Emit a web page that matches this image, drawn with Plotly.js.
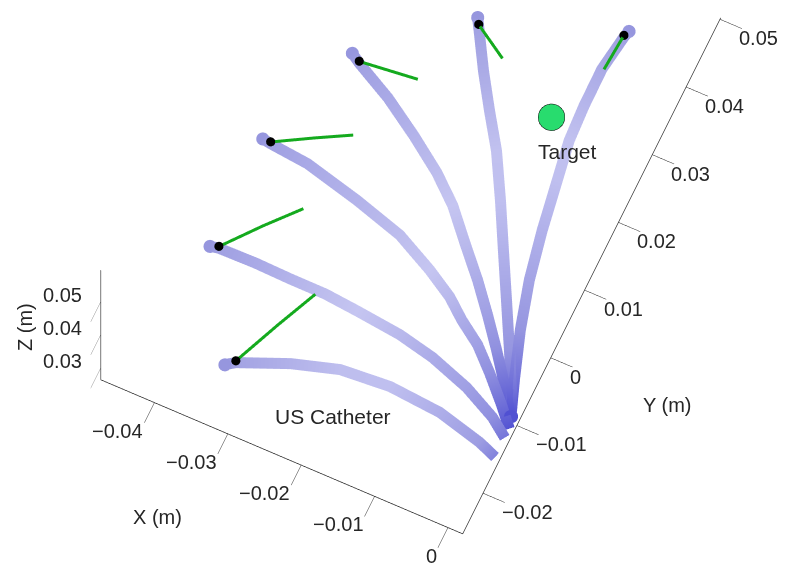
<!DOCTYPE html>
<html>
<head>
<meta charset="utf-8">
<script src="https://cdn.plot.ly/plotly-3.0.1.min.js"></script>
<style>html,body{margin:0;padding:0;background:#fff}#chart{width:787px;height:570px}</style>
</head>
<body>
<div id="chart"></div>
<script>
// Catheter centrelines (metres), each listed from tip to base
const catheterX = [
  [-0.03356,-0.03244,-0.02623,-0.02031,-0.01377,-0.00672,-0.00057,0.00272,0.00535],
  [-0.04189,-0.04077,-0.03579,-0.03099,-0.02624,-0.02171,-0.01556,-0.01058,-0.00510,-0.00052,0.00256,0.00390],
  [-0.04200,-0.04083,-0.03557,-0.02792,-0.02115,-0.01584,-0.01209,-0.00946,-0.00628,-0.00337,-0.00024,0.00233],
  [-0.03675,-0.03541,-0.03021,-0.02518,-0.02054,-0.01691,-0.01321,-0.00991,-0.00684,-0.00387,-0.00102,0.00144],
  [-0.02468,-0.02406,-0.02099,-0.01808,-0.01506,-0.01182,-0.00869,-0.00555,-0.00242,0.00004,0.00155],
  [-0.00690,-0.00713,-0.00780,-0.00774,-0.00746,-0.00656,-0.00545,-0.00410,-0.00231,-0.00018,0.00150]
];
const catheterY = [
  [-0.01918,-0.01837,-0.01565,-0.01380,-0.01328,-0.01385,-0.01543,-0.01670,-0.01857],
  [-0.00553,-0.00531,-0.00522,-0.00535,-0.00537,-0.00578,-0.00646,-0.00755,-0.00943,-0.01172,-0.01398,-0.01542],
  [0.01029,0.01010,0.00958,0.00768,0.00566,0.00296,0.00072,-0.00145,-0.00365,-0.00643,-0.00969,-0.01261],
  [0.02536,0.02451,0.02176,0.01850,0.01520,0.01203,0.00785,0.00422,0.00050,-0.00328,-0.00710,-0.01067],
  [0.03622,0.03519,0.02998,0.02545,0.02096,0.01511,0.00920,0.00330,-0.00261,-0.00735,-0.01062],
  [0.04237,0.04138,0.03637,0.03095,0.02594,0.02047,0.01364,0.00691,0.00038,-0.00599,-0.01065]
];
const catheterZ = [
  [0.03,0.03,0.03,0.03,0.03,0.03,0.03,0.03,0.03],
  [0.03,0.03,0.03,0.03,0.03,0.03,0.03,0.03,0.03,0.03,0.03,0.03],
  [0.03,0.03,0.03,0.03,0.03,0.03,0.03,0.03,0.03,0.03,0.03,0.03],
  [0.03,0.03,0.03,0.03,0.03,0.03,0.03,0.03,0.03,0.03,0.03,0.03],
  [0.03,0.03,0.03,0.03,0.03,0.03,0.03,0.03,0.03,0.03,0.03],
  [0.03,0.03,0.03,0.03,0.03,0.03,0.03,0.03,0.03,0.03,0.03]
];
// Imaging direction lines (green), from the tip outward
const beamX = [
  [-0.03244,-0.02975,-0.02725],
  [-0.04077,-0.03692,-0.03340],
  [-0.04083,-0.03625,-0.03194],
  [-0.03541,-0.02781],
  [-0.02406,-0.01948],
  [-0.00713,-0.00746]
];
const beamY = [
  [-0.01837,-0.01184,-0.00612],
  [-0.00531,-0.00044,0.00368],
  [0.01010,0.01280,0.01523],
  [0.02451,0.02537],
  [0.03519,0.03230],
  [0.04138,0.03623]
];
const beamZ = [
  [0.0305,0.0305,0.0305],
  [0.0305,0.0305,0.0305],
  [0.0305,0.0305,0.0305],
  [0.0305,0.0305],
  [0.0305,0.0305],
  [0.0305,0.0305]
];
// Catheter tips
const tipX = [-0.03244,-0.04077,-0.04083,-0.03541,-0.02406,-0.00713];
const tipY = [-0.01837,-0.00531,0.01010,0.02451,0.03519,0.04138];
const tipZ = [0.0306,0.0306,0.0306,0.0306,0.0306,0.0306];
// Target
const targetX = [-0.01081];
const targetY = [0.02792];
const targetZ = [0.03];
const catheterLabel = {x: -0.01846, y: -0.01986, z: 0.03, text: 'US Catheter'};
// Axes
const xRange = [-0.0473, 0.002];
const yRange = [-0.026, 0.0502];
const zRange = [0.0264, 0.0595];
const xTicks = [-0.04, -0.03, -0.02, -0.01, 0];
const xTickText = ['\u22120.04', '\u22120.03', '\u22120.02', '\u22120.01', '0'];
const yTicks = [-0.02, -0.01, 0, 0.01, 0.02, 0.03, 0.04, 0.05];
const yTickText = ['\u22120.02', '\u22120.01', '0', '0.01', '0.02', '0.03', '0.04', '0.05'];
const zTicks = [0.03, 0.04, 0.05];
const zTickText = ['0.03', '0.04', '0.05'];

const FONT = 'Liberation Sans, Arial, Helvetica, sans-serif';
const INK = '#262626';
const traces = [];
const tubeScale = [
  [0, 'rgb(150,150,222)'],
  [0.45, 'rgb(198,198,241)'],
  [0.8, 'rgb(150,150,224)'],
  [1, 'rgb(80,80,210)']
];
const capX = [], capY = [], capZ = [], capC = [];
for (let c = 0; c < catheterX.length; c++) {
  const n = catheterX[c].length;
  traces.push({
    type: 'scatter3d', mode: 'lines',
    x: catheterX[c], y: catheterY[c], z: catheterZ[c],
    line: {width: 22, color: catheterX[c].map((_, i) => i / (n - 1)), colorscale: tubeScale, cmin: 0, cmax: 1},
    hoverinfo: 'skip'
  });
  // rounded tube ends
  capX.push(catheterX[c][0], catheterX[c][n - 1]);
  capY.push(catheterY[c][0], catheterY[c][n - 1]);
  capZ.push(catheterZ[c][0], catheterZ[c][n - 1]);
  capC.push(0, 1);
}
traces.push({
  type: 'scatter3d', mode: 'markers',
  x: capX, y: capY, z: capZ,
  marker: {size: 7.6, color: capC, colorscale: tubeScale, cmin: 0, cmax: 1, line: {width: 0}},
  hoverinfo: 'skip'
});
for (let c = 0; c < beamX.length; c++) {
  traces.push({
    type: 'scatter3d', mode: 'lines',
    x: beamX[c], y: beamY[c], z: beamZ[c],
    line: {width: 6, color: 'rgb(20,170,30)'},
    hoverinfo: 'skip'
  });
}
traces.push({
  type: 'scatter3d', mode: 'markers',
  x: tipX, y: tipY, z: tipZ,
  marker: {size: 5.3, color: '#000'},
  hoverinfo: 'skip'
});
traces.push({
  type: 'scatter3d', mode: 'markers',
  x: targetX, y: targetY, z: targetZ,
  marker: {size: 15.5, color: 'rgb(40,220,110)', line: {color: '#000', width: 2}},
  hoverinfo: 'skip'
});

function axisStyle(range, ticks) {
  return {
    range: range,
    tickmode: 'array', tickvals: ticks,
    showticklabels: false,
    showgrid: false, zeroline: false, showbackground: false,
    showline: true, linecolor: INK, linewidth: 1.5,
    ticks: 'outside', ticklen: 24, tickcolor: INK,
    title: {text: ''},
    showspikes: false
  };
}

// tick labels as screen-aligned scene annotations
const tickFont = {family: FONT, size: 20, color: INK};
const sceneAnn = [];
xTicks.forEach((v, i) => sceneAnn.push({x: v, y: yRange[0], z: zRange[0], text: xTickText[i], showarrow: false,
  xanchor: 'right', yanchor: 'middle', xshift: -9, yshift: -28, font: tickFont}));
yTicks.forEach((v, i) => sceneAnn.push({x: xRange[1], y: v, z: zRange[0], text: yTickText[i], showarrow: false,
  xanchor: 'left', yanchor: 'middle', xshift: 17, yshift: -19, font: tickFont}));
zTicks.forEach((v, i) => sceneAnn.push({x: xRange[0], y: yRange[0], z: v, text: zTickText[i], showarrow: false,
  xanchor: 'right', yanchor: 'middle', xshift: -17, yshift: 7, font: tickFont}));
sceneAnn.push({x: targetX[0], y: targetY[0], z: targetZ[0], text: 'Target', showarrow: false,
  xanchor: 'center', yanchor: 'middle', xshift: 16, yshift: -35, font: {family: FONT, size: 21, color: INK}});
sceneAnn.push({x: catheterLabel.x, y: catheterLabel.y, z: catheterLabel.z, text: catheterLabel.text, showarrow: false,
  xanchor: 'center', yanchor: 'middle', font: {family: FONT, size: 21, color: INK}});

const k = 28.36;
const dir = {x: 0.1617, y: -0.3504, z: 0.9225};
const center = {x: 0.1361, y: -0.4396, z: -0.1914};
const D = 2;
const titleFont = {family: FONT, size: 20, color: INK};
const layout = {
  width: 787, height: 570,
  margin: {l: 0, r: 0, t: 0, b: 0},
  paper_bgcolor: '#fff',
  showlegend: false,
  font: {family: FONT, color: INK},
  scene: {
    domain: {x: [0, 1], y: [0, 1]},
    bgcolor: '#fff',
    aspectmode: 'manual',
    aspectratio: {x: (xRange[1] - xRange[0]) * k, y: (yRange[1] - yRange[0]) * k, z: (zRange[1] - zRange[0]) * k * 1.0625},
    camera: {
      center: center,
      eye: {x: center.x + D * dir.x, y: center.y + D * dir.y, z: center.z + D * dir.z},
      up: {x: 0, y: 0, z: 1},
      projection: {type: 'orthographic'}
    },
    xaxis: axisStyle(xRange, xTicks),
    yaxis: axisStyle(yRange, yTicks),
    zaxis: axisStyle(zRange, zTicks),
    annotations: sceneAnn
  },
  annotations: [
    {xref: 'paper', yref: 'paper', x: 157 / 787, y: 1 - 517 / 570, xanchor: 'center', yanchor: 'middle', text: 'X (m)', showarrow: false, font: titleFont},
    {xref: 'paper', yref: 'paper', x: 667 / 787, y: 1 - 405 / 570, xanchor: 'center', yanchor: 'middle', text: 'Y (m)', showarrow: false, font: titleFont},
    {xref: 'paper', yref: 'paper', x: 25 / 787, y: 1 - 327 / 570, xanchor: 'center', yanchor: 'middle', text: 'Z (m)', textangle: -90, showarrow: false, font: titleFont}
  ]
};
Plotly.newPlot('chart', traces, layout, {displayModeBar: false, responsive: false});
</script>
</body>
</html>
